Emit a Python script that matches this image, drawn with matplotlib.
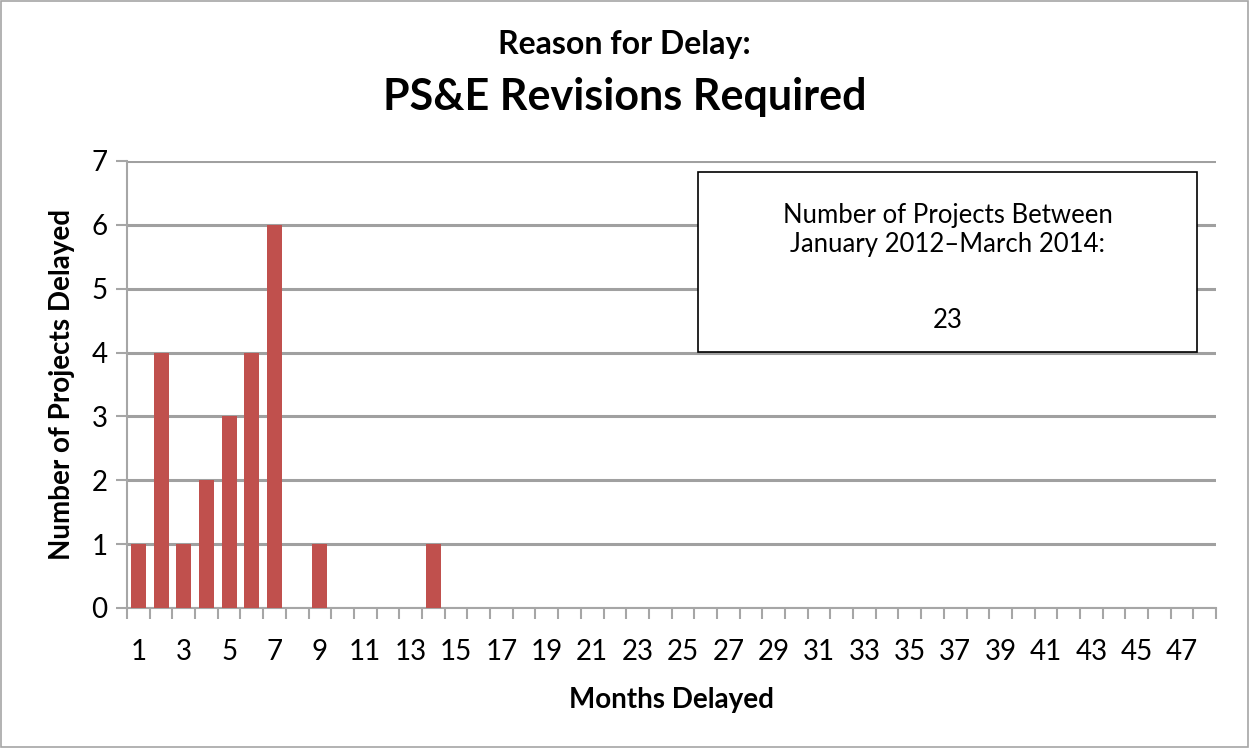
import matplotlib.pyplot as plt
import numpy as np

plt.rcParams['font.family'] = ['Lato', 'DejaVu Sans']

# months delayed (1..48) and number of projects
months = np.arange(1, 49)
delayed_months = [1, 2, 3, 4, 5, 6, 7, 9, 14]
delayed_counts = [1, 4, 1, 2, 3, 4, 6, 1, 1]
counts = np.zeros(len(months))
for m, c in zip(delayed_months, delayed_counts):
    counts[m - 1] = c

label_months = months[::2]
total_projects = 23

fig = plt.figure(figsize=(12.49, 7.48), dpi=100)
ax = fig.add_axes([0.1017, 0.1872, 0.872, 0.5976])

ax.bar(months, counts, width=0.66, color='#C0504D', zorder=3)

ax.set_xlim(0.5, 48.5)
ax.set_ylim(0, 7)
ax.set_yticks(range(0, 8))
ax.set_xticks(label_months)
ax.set_xticks(np.arange(0.5, 49, 1), minor=True)
ax.tick_params(axis='x', which='major', length=0, labelsize=20, pad=22)
ax.tick_params(axis='x', which='minor', length=8, width=1.5, color='#A6A6A6')
ax.tick_params(axis='y', length=8, width=1.5, color='#A6A6A6', labelsize=20, pad=6)

ax.grid(axis='y', color='#A0A0A0', linewidth=2.2, zorder=0)
for s in ['top', 'right']:
    ax.spines[s].set_visible(False)
ax.spines['left'].set_color('#A6A6A6')
ax.spines['left'].set_linewidth(1.5)
ax.spines['bottom'].set_color('#A6A6A6')
ax.spines['bottom'].set_linewidth(1.5)

ax.set_xlabel('Months Delayed', fontsize=20, fontweight='bold', labelpad=16)
ax.set_ylabel('Number of Projects Delayed', fontsize=20, fontweight='bold', labelpad=12)

fig.text(0.5, 0.94, 'Reason for Delay:', ha='center', va='center', fontsize=23, fontweight='bold')
fig.text(0.5, 0.87, 'PS&E Revisions Required', ha='center', va='center', fontsize=31, fontweight='bold')

# annotation box
box = plt.Rectangle((0.5589, 0.5294), 0.3995, 0.2406, transform=fig.transFigure,
                    facecolor='white', edgecolor='black', linewidth=1.2, zorder=5)
fig.add_artist(box)
fig.text(0.7586, 0.693, 'Number of Projects Between\nJanuary 2012\u2013March 2014:', ha='center', va='center',
         fontsize=18.5, linespacing=1.2, zorder=6)
fig.text(0.7586, 0.572, str(total_projects), ha='center', va='center', fontsize=18.5, zorder=6)

# outer frame
frame = plt.Rectangle((0.001, 0.001), 0.998, 0.998, transform=fig.transFigure,
                      facecolor='none', edgecolor='#A6A6A6', linewidth=1.2)
fig.add_artist(frame)

plt.savefig('out.png', dpi=100)
